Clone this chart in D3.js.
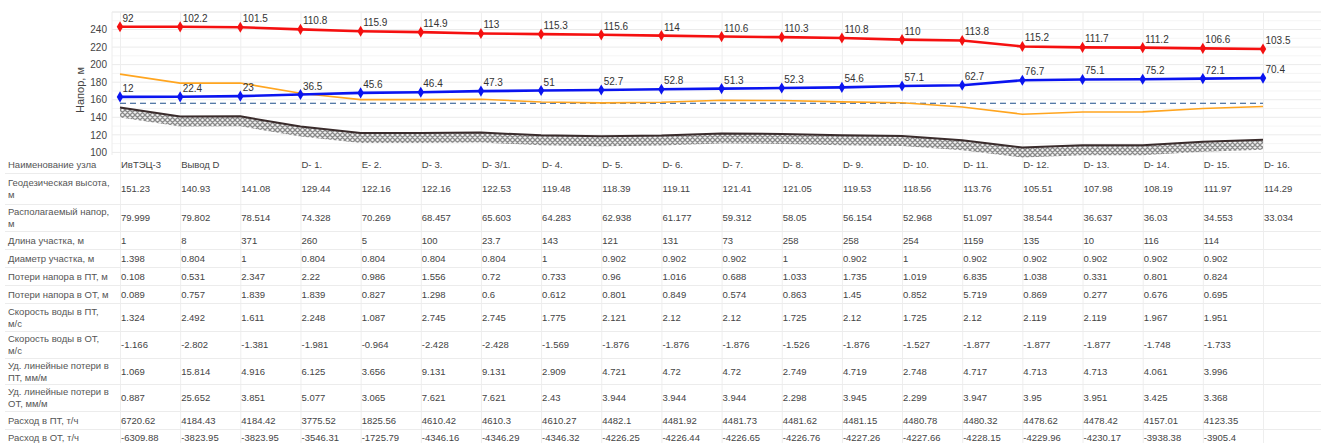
<!DOCTYPE html>
<html><head><meta charset="utf-8">
<script src="https://cdn.jsdelivr.net/npm/d3@7"></script>
<style>body{margin:0;background:#fff;} svg{display:block;font-family:Arial,"Liberation Sans",sans-serif;}</style>
</head><body><svg id="c" width="1321" height="443"></svg>
<script>
// ---------- DATA ----------
const nodeNames = ["ИвТЭЦ-3","Вывод D","","D- 1.","E- 2.","D- 3.","D- 3/1.","D- 4.","D- 5.","D- 6.","D- 7.","D- 8.","D- 9.","D- 10.","D- 11.","D- 12.","D- 13.","D- 14.","D- 15.","D- 16."];
const geoHeight = [151.23,140.93,141.08,129.44,122.16,122.16,122.53,119.48,118.39,119.11,121.41,121.05,119.53,118.56,113.76,105.51,107.98,108.19,111.97,114.29];
const availHead = [79.999,79.802,78.514,74.328,70.269,68.457,65.603,64.283,62.938,61.177,59.312,58.05,56.154,52.968,51.097,38.544,36.637,36.03,34.553,33.034];
const segLength = [1,8,371,260,5,100,23.7,143,121,131,73,258,258,254,1159,135,10,116,114,null];
const segDiameter = [1.398,0.804,1,0.804,0.804,0.804,0.804,1,0.902,0.902,0.902,1,0.902,1,0.902,0.902,0.902,0.902,0.902,null];
const lossSupply = [0.108,0.531,2.347,2.22,0.986,1.556,0.72,0.733,0.96,1.016,0.688,1.033,1.735,1.019,6.835,1.038,0.331,0.801,0.824,null];
const lossReturn = [0.089,0.757,1.839,1.839,0.827,1.298,0.6,0.612,0.801,0.849,0.574,0.863,1.45,0.852,5.719,0.869,0.277,0.676,0.695,null];
const velSupply = [1.324,2.492,1.611,2.248,1.087,2.745,2.745,1.775,2.121,2.12,2.12,1.725,2.12,1.725,2.12,2.119,2.119,1.967,1.951,null];
const velReturn = [-1.166,-2.802,-1.381,-1.981,-0.964,-2.428,-2.428,-1.569,-1.876,-1.876,-1.876,-1.526,-1.876,-1.527,-1.877,-1.877,-1.877,-1.748,-1.733,null];
const specLossSupply = [1.069,15.814,4.916,6.125,3.656,9.131,9.131,2.909,4.721,4.72,4.72,2.749,4.719,2.748,4.717,4.713,4.713,4.061,3.996,null];
const specLossReturn = [0.887,25.652,3.851,5.077,3.065,7.621,7.621,2.43,3.944,3.944,3.944,2.298,3.945,2.299,3.947,3.95,3.951,3.425,3.368,null];
const flowSupply = [6720.62,4184.43,4184.42,3775.52,1825.56,4610.42,4610.3,4610.27,4482.1,4481.92,4481.73,4481.62,4481.15,4480.78,4480.32,4478.62,4478.42,4157.01,4123.35,null];
const flowReturn = [-6309.88,-3823.95,-3823.95,-3546.31,-1725.79,-4346.16,-4346.29,-4346.32,-4226.25,-4226.44,-4226.65,-4226.76,-4227.26,-4227.66,-4228.15,-4229.96,-4230.17,-3938.38,-3905.4,null];

// pressures (labels) and heads (line positions)
const supplyPressure = [92,102.2,101.5,110.8,115.9,114.9,113,115.3,115.6,114,110.6,110.3,110.8,110,113.8,115.2,111.7,111.2,106.6,103.5];
const returnPressure = [12,22.4,23,36.5,45.6,46.4,47.3,51,52.7,52.8,51.3,52.3,54.6,57.1,62.7,76.7,75.1,75.2,72.1,70.4];
const supplyHead = [243.23,243.13,242.58,240.24,238.06,237.06,235.53,234.78,233.99,233.11,232.01,231.35,230.33,228.56,227.56,220.71,219.68,219.39,218.57,217.79];
const returnHead = [163.23,163.33,164.08,165.94,167.76,168.56,169.83,170.48,171.09,171.91,172.71,173.35,174.13,175.66,176.46,182.21,183.08,183.39,184.07,184.69];
const staticHead = [189.23,178.93,179.08,167.44,160.16,160.16,160.53,157.48,156.39,157.11,159.41,159.05,157.53,156.56,151.76,143.51,145.98,146.19,149.97,152.29];
const dashedLevel = 156;
const yTicks = [100,120,140,160,180,200,220,240];
const yTitle = "Напор, м";

const rowLabels = [
  ["Наименование узла"],
  ["Геодезическая высота,","м"],
  ["Располагаемый напор,","м"],
  ["Длина участка, м"],
  ["Диаметр участка, м"],
  ["Потери напора в ПТ, м"],
  ["Потери напора в ОТ, м"],
  ["Скорость воды в ПТ,","м/с"],
  ["Скорость воды в ОТ,","м/с"],
  ["Уд. линейные потери в","ПТ, мм/м"],
  ["Уд. линейные потери в","ОТ, мм/м"],
  ["Расход в ПТ, т/ч"],
  ["Расход в ОТ, т/ч"]
];
const rowValues = [nodeNames, geoHeight, availHead, segLength, segDiameter, lossSupply, lossReturn, velSupply, velReturn, specLossSupply, specLossReturn, flowSupply, flowReturn];

// ---------- LAYOUT ----------
const W = 1321, H = 443;
const plotL = 112, plotR = 1321, plotT = 12, plotB = 155;
const rowEdges = [155,173,204,231,249,267,285,303,331,358,384,411,429,446];

const svg = d3.select("#c");
const n = nodeNames.length;
const x = d3.scaleLinear().domain([0, n - 1]).range([120, 1263]);
const y = d3.scaleLinear().domain([97, 260]).range([plotB, plotT]);

const defs = svg.append("defs");
const pat = defs.append("pattern").attr("id","hatch").attr("patternUnits","userSpaceOnUse").attr("width",5).attr("height",5);
pat.append("rect").attr("width",5).attr("height",5).attr("fill","#f2f2f2");
pat.append("path").attr("d","M0,0L5,5M5,0L0,5M-1,4L1,6M4,-1L6,1").attr("stroke","#8a8a8a").attr("stroke-width",1.3);

// grid
const g = svg.append("g");
g.selectAll(".hm").data(d3.range(100, 261, 10)).join("line")
  .attr("x1", plotL).attr("x2", plotR).attr("y1", d => y(d)).attr("y2", d => y(d))
  .attr("stroke", d => d % 20 === 0 ? "#ebebeb" : "#f5f5f5").attr("stroke-width", 1);
g.append("line").attr("x1", plotL).attr("x2", plotR).attr("y1", plotT).attr("y2", plotT).attr("stroke", "#ececec");
g.append("line").attr("x1", plotL).attr("x2", plotL).attr("y1", plotT).attr("y2", plotB).attr("stroke", "#ececec");
g.selectAll(".v").data(d3.range(n)).join("line")
  .attr("x1", i => x(i) + 0.5).attr("x2", i => x(i) + 0.5).attr("y1", plotT).attr("y2", rowEdges[rowEdges.length-1])
  .attr("stroke", "#eeeeee").attr("stroke-width", 1);

// y axis
const yAxis = d3.axisLeft(y).tickValues(yTicks).tickSize(0).tickPadding(4);
const ya = svg.append("g").attr("transform", `translate(${plotL - 1},0)`).call(yAxis);
ya.select(".domain").remove();
ya.selectAll("text").attr("font-size", 10).attr("fill", "#444").attr("font-family", "Arial, 'Liberation Sans', sans-serif");
svg.append("text").attr("transform", "translate(84,90) rotate(-90)").attr("text-anchor", "middle")
  .attr("font-size", 11).attr("fill", "#444").text(yTitle);

// ground
const idx = d3.range(n);
svg.append("path").datum(idx)
  .attr("d", d3.area().x(i => x(i)).y1(i => y(geoHeight[i])).y0(i => y(geoHeight[i]) + 10))
  .attr("fill", "url(#hatch)");
svg.append("path").datum(idx)
  .attr("d", d3.line().x(i => x(i)).y(i => y(geoHeight[i])))
  .attr("fill", "none").attr("stroke", "#3a2c2c").attr("stroke-width", 2);

// dashed level
svg.append("line").attr("x1", x(0)).attr("x2", x(n - 1)).attr("y1", y(dashedLevel)).attr("y2", y(dashedLevel))
  .attr("stroke", "#1f4f8a").attr("stroke-width", 1.2).attr("stroke-dasharray", "6,4");

// static/orange line
svg.append("path").datum(idx)
  .attr("d", d3.line().x(i => x(i)).y(i => y(staticHead[i])))
  .attr("fill", "none").attr("stroke", "#ffa51f").attr("stroke-width", 1.6);

function series(head, labels, color) {
  svg.append("path").datum(idx)
    .attr("d", d3.line().x(i => x(i)).y(i => y(head[i])))
    .attr("fill", "none").attr("stroke", color).attr("stroke-width", 2.6);
  svg.append("g").selectAll("path").data(idx).join("path")
    .attr("d", d3.symbol().type(d3.symbolDiamond).size(36))
    .attr("transform", i => `translate(${x(i)},${y(head[i])})`)
    .attr("fill", color);
  svg.append("g").selectAll("text").data(idx).join("text")
    .attr("x", i => x(i) + 2.5).attr("y", i => y(head[i]) - 5)
    .attr("font-size", 10).attr("fill", "#333").text(i => String(labels[i]));
}
series(returnHead, returnPressure, "#0a14f0");
series(supplyHead, supplyPressure, "#f51010");

// table
const tb = svg.append("g");
tb.selectAll(".sep").data(rowEdges.slice(1, -1)).join("line")
  .attr("x1", 5).attr("x2", W).attr("y1", d => d + 0.5).attr("y2", d => d + 0.5)
  .attr("stroke", "#ececec");
rowLabels.forEach((lines, r) => {
  const cy = (rowEdges[r] + rowEdges[r + 1]) / 2;
  const t = tb.append("text").attr("x", 8).attr("font-size", 9.5).attr("fill", "#555");
  if (lines.length === 1) {
    t.attr("y", cy + 3.5).text(lines[0]);
  } else {
    t.append("tspan").attr("x", 8).attr("y", cy - 2.5).text(lines[0]);
    t.append("tspan").attr("x", 8).attr("y", cy + 9.5).text(lines[1]);
  }
  tb.append("g").selectAll("text").data(rowValues[r]).join("text")
    .attr("x", (d, i) => x(i) + 1).attr("y", cy + 3.5)
    .attr("font-size", 9.5).attr("fill", "#444")
    .text(d => d === null ? "" : String(d));
});
</script>
</body></html>
